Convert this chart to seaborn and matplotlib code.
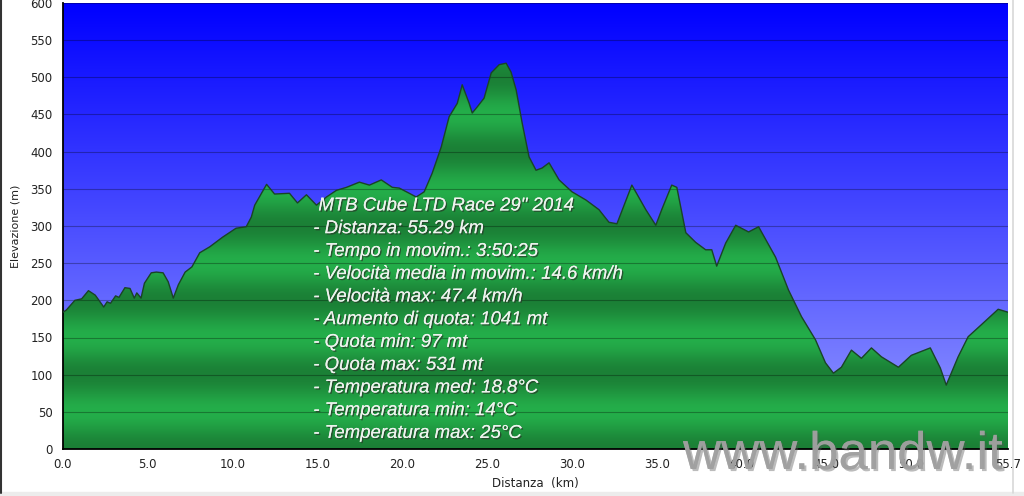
import numpy as np
import pandas as pd
import seaborn as sns
import matplotlib.pyplot as plt
import matplotlib.patheffects as pe
from matplotlib.lines import Line2D
from matplotlib.patches import Rectangle

# profilo altimetrico (km, m)
distanza = [0.0, 0.2, 0.7, 1.1, 1.5, 1.9, 2.4, 2.6, 2.8, 3.1, 3.3, 3.65, 3.95, 4.2, 4.35, 4.6, 4.8, 5.2, 5.5, 5.9,
            6.2, 6.5, 6.8, 7.2, 7.6, 8.06, 8.65, 9.41, 10.2, 10.8, 11.1, 11.3, 12.0, 12.47, 13.35, 13.82, 14.35, 14.94,
            15.53, 16.12, 16.71, 17.47, 18.06, 18.76, 19.41, 19.82, 20.41, 20.82, 21.29, 21.76, 22.29, 22.76, 23.24,
            23.53, 23.94, 24.12, 24.41, 24.82, 25.24, 25.71, 26.12, 26.41, 26.71, 27.06, 27.47, 27.88, 28.24, 28.65,
            29.24, 30.0, 30.82, 31.59, 32.18, 32.65, 33.53, 34.35, 34.94, 35.29, 35.88, 36.18, 36.71, 37.29, 37.88,
            38.24, 38.53, 39.06, 39.65, 40.41, 41.0, 42.0, 42.76, 43.53, 44.35, 44.94, 45.41, 45.88, 46.47, 47.06,
            47.65, 48.24, 49.24, 50.0, 51.12, 51.71, 52.06, 52.76, 53.35, 54.12, 55.12, 55.7]
elevazione = [184, 187, 200, 202, 213, 207, 191, 198, 196, 206, 204, 217, 216, 203, 210, 203, 223, 237, 238, 237,
              225, 203, 221, 238, 245, 264, 272, 285, 297, 299, 312, 328, 356, 343, 344, 331, 342, 328,
              339, 348, 352, 359, 355, 362, 352, 351, 344, 339, 346, 371, 406, 447, 465,
              490, 465, 452, 460, 472, 506, 517, 519, 507, 483, 439, 393, 375, 378, 385,
              362, 346, 335, 322, 305, 303, 355, 322, 301, 322, 355, 352, 291, 278, 268,
              268, 246, 277, 301, 292, 299, 258, 214, 178, 147, 116, 102, 110, 133, 122,
              136, 124, 110, 126, 136, 109, 86, 124, 151, 167, 188, 184]

x_ticks = [0, 5, 10, 15, 20, 25, 30, 35, 40, 45, 50, 55.7]
y_ticks = list(range(0, 601, 50))

info = ['MTB Cube LTD Race 29" 2014',
        '- Distanza: 55.29 km',
        '- Tempo in movim.: 3:50:25',
        '- Velocità media in movim.: 14.6 km/h',
        '- Velocità max: 47.4 km/h',
        '- Aumento di quota: 1041 mt',
        '- Quota min: 97 mt',
        '- Quota max: 531 mt',
        '- Temperatura med: 18.8°C',
        '- Temperatura min: 14°C',
        '- Temperatura max: 25°C']

df = pd.DataFrame({'km': distanza, 'm': elevazione})

sns.set_style('white')
plt.rcParams['font.family'] = ['DejaVu Sans']

fig = plt.figure(figsize=(10.24, 4.96), dpi=100)
ax = fig.add_axes([63 / 1024, 1 - 449 / 496, 945 / 1024, 446 / 496])
xmax, ymax = 55.7, 600

# cielo sfumato
t = np.linspace(0, 1, 256)[:, None]
top = np.array([0, 0, 255]) / 255
bot = np.array([150, 156, 255]) / 255
sky = (top * (1 - t) + bot * t)[:, None, :]
ax.imshow(sky, extent=[0, xmax, 0, ymax], aspect='auto', zorder=0, origin='upper')

# area verde a bande
poly = ax.fill_between(df['km'], df['m'], 0, color='none', lw=0, zorder=1)
yy = np.linspace(ymax, 0, 600)
b = 0.5 + 0.5 * np.cos(2 * np.pi * (yy - 50) / 100)
light = np.array([36, 174, 74]) / 255
dark = np.array([27, 128, 54]) / 255
green = (dark * (1 - b[:, None]) + light * b[:, None])[:, None, :]
im = ax.imshow(green, extent=[0, xmax, 0, ymax], aspect='auto', zorder=1, origin='upper')
im.set_clip_path(poly.get_paths()[0], transform=ax.transData)

sns.lineplot(data=df, x='km', y='m', ax=ax, color='#1a4426', lw=1, sort=False, estimator=None, zorder=3)

for v in y_ticks[1:]:
    ax.axhline(v, color='black', lw=0.8, alpha=0.3, zorder=2)

ax.set_xlim(0, xmax)
ax.set_ylim(0, ymax)
ax.set_xticks(x_ticks)
ax.set_xticklabels([f'{v:.1f}' for v in x_ticks])
ax.set_yticks(y_ticks)
ax.tick_params(axis='both', labelsize=8.5, colors='#222222', length=4, width=1)
ax.tick_params(axis='x', direction='inout', length=6)
ax.tick_params(axis='y', direction='out', length=4)
for s in ['top', 'right']:
    ax.spines[s].set_visible(False)
for s in ['left', 'bottom']:
    ax.spines[s].set_color('black')
    ax.spines[s].set_linewidth(1.3)
ax.set_xlabel('Distanza  (km)', fontsize=8.5, color='#222222', labelpad=4)
ax.set_ylabel('Elevazione (m)', fontsize=8, color='#222222', labelpad=7)

# riepilogo del giro
shadow = [pe.withSimplePatchShadow(offset=(1, -1), shadow_rgbFace='#2a3a2a', alpha=0.75), pe.Normal()]
for i, line in enumerate(info):
    x0 = 15.05 if i == 0 else 14.75
    ax.text(x0, 327 - i * 30.6, line, fontsize=13.4, style='italic', family='Liberation Sans',
            color='#eef2ee', va='center', ha='left', zorder=5, path_effects=shadow)

# marchio (semitrasparente, come nell'originale)
fig.text(683 / 1024, 1 - 469 / 496, 'www.bandw.it', fontsize=38, family='Liberation Sans',
         color='#a0a0a0', alpha=0.85, ha='left', va='baseline', zorder=10,
         path_effects=[pe.withSimplePatchShadow(offset=(1.5, -1.5), shadow_rgbFace='#555555', alpha=0.4),
                       pe.Normal()])

# cornice
fig.add_artist(Line2D([1 / 1024, 1 / 1024], [3 / 496, 1], color='#333333', lw=1.5))
fig.add_artist(Line2D([1013 / 1024, 1013 / 1024], [3 / 496, 1], color='#d8d8d8', lw=1.2))
fig.add_artist(Rectangle((0, 0), 1, 4 / 496, color='#ececec', transform=fig.transFigure))

fig.savefig('out.png', dpi=100)
